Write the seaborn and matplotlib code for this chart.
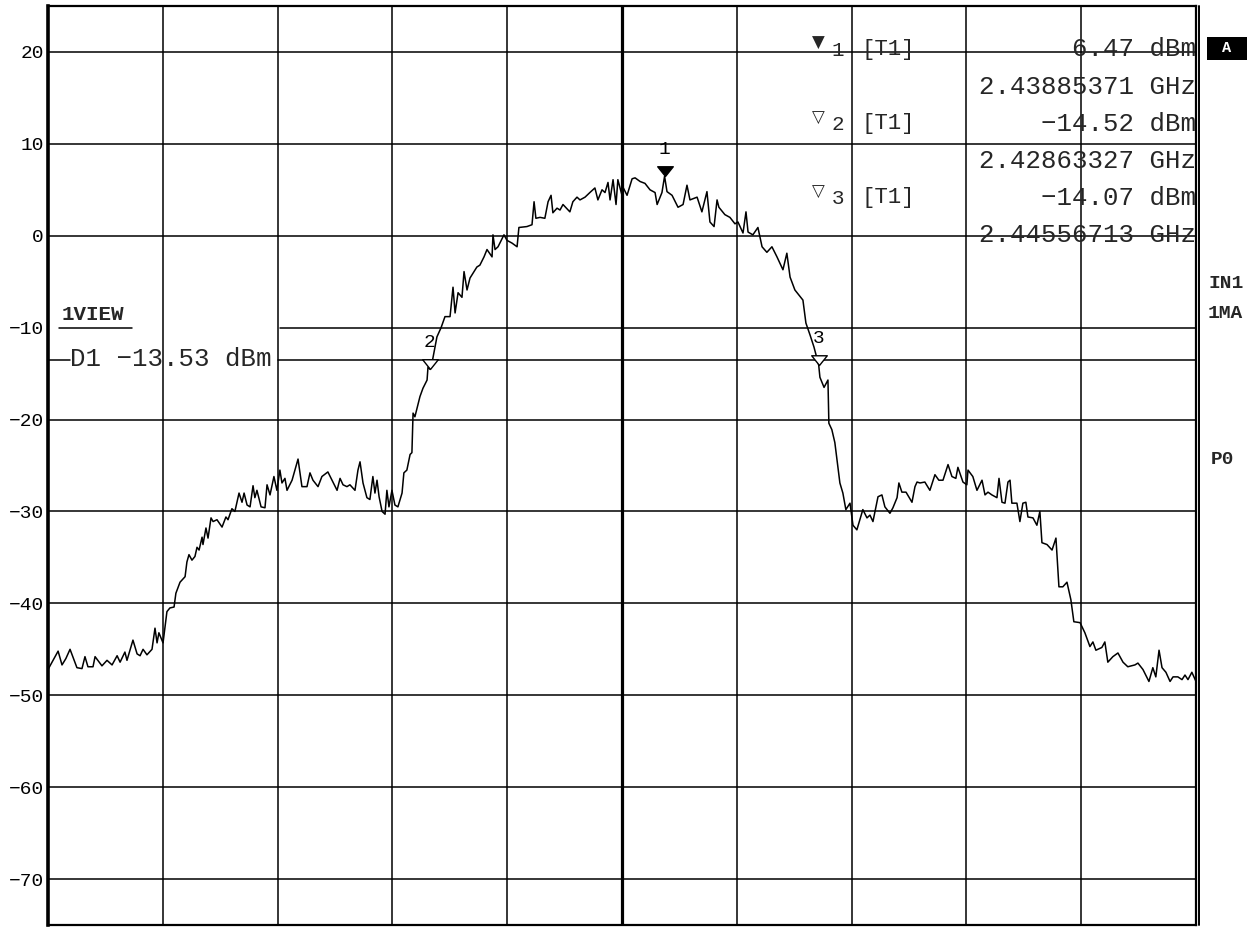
import numpy as np
import pandas as pd
import matplotlib
matplotlib.use("Agg")
import matplotlib.pyplot as plt
import seaborn as sns
from matplotlib.path import Path
from matplotlib.patches import Rectangle

# ---- sweep settings -------------------------------------------------------
f_start_mhz = 2412.0
f_stop_mhz = 2462.0
f_center_mhz = 2437.0
ref_top_db = 25.0
ref_bottom_db = -75.0
display_line_dbm = -13.53

# ---- trace 1 (frequency offset from start in MHz, level in dBm) ----------
trace_offset_mhz = [
    0.00, 0.44, 0.61, 0.78, 0.96, 1.26, 1.48, 1.61, 1.74, 1.96, 2.05, 2.35,
    2.57, 2.79, 3.01, 3.14, 3.35, 3.44, 3.70, 3.88, 4.01, 4.14, 4.31, 4.53,
    4.66, 4.75, 4.83, 5.01, 5.18, 5.31, 5.49, 5.57, 5.75, 5.97, 6.05, 6.14,
    6.27, 6.40, 6.49, 6.58, 6.71, 6.75, 6.88, 6.97, 7.10, 7.19, 7.36, 7.58,
    7.75, 7.84, 8.01, 8.14, 8.32, 8.45, 8.54, 8.67, 8.80, 8.93, 9.01, 9.10,
    9.28, 9.45, 9.54, 9.67, 9.84, 9.97, 10.10, 10.19, 10.32, 10.41, 10.63,
    10.89, 11.06, 11.28, 11.41, 11.54, 11.76, 11.93, 12.19, 12.59, 12.72,
    12.85, 13.02, 13.15, 13.37, 13.50, 13.59, 13.72, 13.89, 14.02, 14.15,
    14.24, 14.33, 14.42, 14.55, 14.68, 14.76, 14.85, 14.98, 15.11, 15.24,
    15.42, 15.50, 15.63, 15.77, 15.85, 15.90, 15.98, 16.20, 16.33, 16.51,
    16.55, 16.633, 16.72, 16.94, 17.12, 17.29, 17.51, 17.64, 17.73, 17.86,
    18.03, 18.12, 18.25, 18.38, 18.68, 18.81, 18.99, 19.12, 19.34, 19.38,
    19.47, 19.60, 19.86, 19.99, 20.21, 20.43, 20.51, 20.86, 21.08, 21.17,
    21.25, 21.43, 21.64, 21.78, 21.91, 21.99, 22.17, 22.30, 22.43, 22.73,
    22.86, 23.04, 23.17, 23.39, 23.60, 23.82, 23.95, 24.13, 24.26, 24.39,
    24.48, 24.61, 24.74, 24.82, 25.00, 25.04, 25.22, 25.44, 25.57, 25.79,
    26.00, 26.22, 26.44, 26.53, 26.74, 26.854, 26.96, 27.18, 27.44, 27.66,
    27.83, 27.96, 28.27, 28.48, 28.70, 28.83, 29.01, 29.14, 29.22, 29.48,
    29.70, 29.92, 30.05, 30.27, 30.40, 30.49, 30.70, 30.92, 31.10, 31.31,
    31.53, 31.75, 32.01, 32.18, 32.32, 32.53, 32.88, 33.01, 33.19, 33.36,
    33.567, 33.62, 33.80, 33.97, 34.01, 34.14, 34.27, 34.49, 34.62, 34.75,
    34.93, 35.06, 35.23, 35.49, 35.67, 35.80, 35.93, 36.15, 36.32, 36.45,
    36.67, 36.80, 36.98, 37.06, 37.19, 37.37, 37.63, 37.76, 37.85, 37.98,
    38.19, 38.41, 38.63, 38.80, 38.98, 39.20, 39.37, 39.54, 39.63, 39.85,
    40.02, 40.07, 40.28, 40.46, 40.68, 40.81, 40.94, 41.11, 41.33, 41.42,
    41.55, 41.68, 41.81, 41.90, 41.98, 42.20, 42.33, 42.46, 42.59, 42.68,
    42.90, 43.07, 43.20, 43.29, 43.51, 43.73, 43.90, 44.03, 44.20, 44.38,
    44.55, 44.68, 44.95, 45.16, 45.38, 45.51, 45.64, 45.90, 46.03, 46.16,
    46.38, 46.60, 46.82, 47.03, 47.34, 47.47, 47.69, 47.95, 48.12, 48.25,
    48.39, 48.52, 48.69, 48.87, 49.00, 49.21, 49.39, 49.52, 49.65, 49.82,
    50.00,
]

trace_dbm = [
    -47.2, -45.2, -46.7, -46.0, -45.0, -47.0, -47.1, -45.8, -46.9, -46.9, -45.8, -46.8,
    -46.2, -46.7, -45.7, -46.4, -45.3, -46.2, -44.0, -45.5, -45.7, -45.0, -45.6, -45.0,
    -42.7, -44.3, -43.2, -44.3, -40.9, -40.5, -40.4, -38.9, -37.7, -37.1, -35.5, -34.7,
    -35.3, -34.9, -33.9, -34.2, -32.8, -33.6, -31.8, -32.9, -30.7, -31.1, -30.9, -31.7,
    -30.6, -30.9, -29.7, -30.0, -28.0, -29.0, -28.0, -29.3, -29.5, -27.2, -28.5, -27.7,
    -29.5, -29.6, -27.1, -28.2, -26.2, -27.7, -25.5, -26.9, -26.4, -27.7, -26.6,
    -24.3, -27.3, -27.3, -25.8, -26.6, -27.3, -26.2, -25.7, -27.7, -26.4,
    -27.1, -27.3, -27.1, -27.7, -25.5, -24.6, -26.9, -28.5, -28.7, -26.2,
    -28.0, -26.6, -28.4, -30.0, -30.3, -27.7, -29.5, -27.7, -29.3, -29.5,
    -28.0, -25.8, -25.5, -23.8, -23.6, -19.3, -19.7, -17.5, -16.6, -15.7,
    -14.3, -14.52, -13.9, -11.0, -10.0, -8.8, -8.8, -5.6, -8.4, -6.2,
    -6.7, -3.9, -5.9, -4.6, -3.4, -3.2, -2.3, -1.5, -2.3, 0.1,
    -1.5, -1.2, 0.1, -0.5, -0.8, -1.2, 0.9, 1.0, 1.2, 3.7,
    1.9, 2.0, 1.9, 3.7, 4.4, 2.5, 3.0, 2.8, 3.4, 2.6,
    3.7, 4.2, 3.9, 4.2, 4.7, 5.2, 3.9, 5.0, 4.7, 5.8,
    3.9, 6.1, 3.4, 6.1, 4.4, 5.3, 4.4, 6.2, 6.3, 5.9,
    5.7, 5.0, 4.7, 3.4, 4.7, 6.47, 4.8, 4.4, 3.1, 3.4,
    5.5, 3.9, 4.2, 2.6, 4.8, 1.5, 1.0, 3.9, 3.1, 2.3,
    2.0, 1.3, 1.5, 0.3, 2.6, 0.4, 0.1, 0.9, -1.2, -1.8,
    -1.2, -2.3, -3.7, -1.9, -4.5, -5.9, -7.0, -9.5, -10.8, -12.1,
    -14.07, -15.4, -16.5, -15.7, -20.4, -21.1, -22.5, -26.9, -28.0, -29.8,
    -29.1, -31.5, -32.0, -29.8, -30.7, -30.4, -31.1, -28.4, -28.2, -29.5,
    -30.2, -29.6, -28.5, -26.9, -27.9, -27.9, -29.0, -27.3, -26.8, -26.9,
    -26.8, -27.7, -26.0, -26.6, -26.6, -24.9, -26.2, -26.4, -25.2, -26.8,
    -27.1, -25.5, -26.2, -27.7, -26.6, -28.2, -27.9, -28.2, -28.5, -26.4,
    -29.0, -29.1, -26.8, -26.6, -29.1, -29.1, -31.1, -29.1, -29.0, -30.6,
    -30.7, -31.5, -30.0, -33.4, -33.6, -34.2, -32.9, -38.2, -38.2, -37.7,
    -39.6, -42.0, -42.1, -43.2, -44.7, -44.2, -45.1, -44.8, -44.2, -46.4,
    -45.8, -45.4, -46.4, -46.9, -46.7, -46.5, -47.2, -48.5, -47.0, -48.0,
    -45.1, -47.0, -47.5, -48.5, -48.0, -48.0, -48.3, -47.8, -48.3, -47.5,
    -48.5,
]

# ---- markers --------------------------------------------------------------
marker_ids = ["1", "2", "3"]
marker_ghz = [2.43885371, 2.42863327, 2.44556713]
marker_dbm = [6.47, -14.52, -14.07]
marker_filled = [True, False, False]

# ---- level axis labels ----------------------------------------------------
ytick_vals = [20, 10, 0, -10, -20, -30, -40, -50, -60, -70]
ytick_labels = ["20", "10", "0", "\u221210", "\u221220", "\u221230",
                "\u221240", "\u221250", "\u221260", "\u221270"]
view_label_level = -10

# ---------------------------------------------------------------------------
sns.set_theme(style="white")
plt.rcParams["font.family"] = ["Liberation Mono", "DejaVu Sans"]

W, H = 1255, 927
fig = plt.figure(figsize=(W / 100, H / 100), dpi=100)
fig.patch.set_facecolor("white")
ax = fig.add_axes([48 / W, 2 / H, 1148 / W, 919 / H])
ax.set_facecolor("white")

df = pd.DataFrame({
    "freq": [f_start_mhz + o for o in trace_offset_mhz],
    "level": trace_dbm,
})

ax.set_xlim(f_start_mhz, f_stop_mhz)
ax.set_ylim(ref_bottom_db, ref_top_db)
ax.set_xticks(np.linspace(f_start_mhz, f_stop_mhz, 11))
ax.set_xticklabels([])
ax.set_yticks(ytick_vals)
ax.set_yticklabels(ytick_labels, fontsize=14, color="black")
ax.tick_params(axis="both", length=0, pad=3)
ax.grid(True, color="black", lw=1.1)
ax.set_axisbelow(True)

# the level line under the view label is broken by the label block
ax.get_ygridlines()[ytick_vals.index(view_label_level)].set_visible(False)
ax.axhline(view_label_level, xmin=11 / 1148, xmax=84 / 1148, color="black", lw=1.1, zorder=0.5)
ax.axhline(view_label_level, xmin=232 / 1148, xmax=1, color="black", lw=1.1, zorder=0.5)

for name, sp in ax.spines.items():
    sp.set_visible(True)
    sp.set_color("black")
    sp.set_linewidth(1.6)
ax.spines["left"].set_linewidth(2.6)

# double line on the right frame edge
ax.plot([1 + 3.5 / 1148] * 2, [0, 1], transform=ax.transAxes, color="black",
        lw=1.4, clip_on=False)

# centre frequency line is heavier
ax.axvline(f_center_mhz, color="black", lw=2.3, zorder=1)

# display line D1, interrupted by its label
ax.axhline(display_line_dbm, xmin=0, xmax=22 / 1148, color="black", lw=1.1)
ax.axhline(display_line_dbm, xmin=230 / 1148, xmax=1, color="black", lw=1.1)

sns.lineplot(data=df, x="freq", y="level", color="black", lw=1.1,
             estimator=None, sort=False, ax=ax, zorder=3)
ax.set_xlabel("")
ax.set_ylabel("")

# marker triangles with their tip on the trace
tri = Path([(-1, 1.25), (1, 1.25), (0, 0), (-1, 1.25)],
           [Path.MOVETO, Path.LINETO, Path.LINETO, Path.CLOSEPOLY])
for mid, fg, lv, filled in zip(marker_ids, marker_ghz, marker_dbm, marker_filled):
    fm = fg * 1000.0
    ax.plot([fm], [lv], ls="none", marker=tri, ms=14,
            mfc="black" if filled else "white", mec="black", mew=1.0, zorder=4)
    ax.annotate(mid, (fm, lv), xytext=(0, 19), textcoords="offset points",
                ha="center", va="center", fontsize=14, color="black", zorder=5)

# marker readout table
row_y = [49, 87, 124, 161, 198, 235]
for i, (mid, fg, lv, filled) in enumerate(zip(marker_ids, marker_ghz, marker_dbm, marker_filled)):
    y_lvl = row_y[2 * i]
    y_frq = row_y[2 * i + 1]
    fig.text(818 / W, 1 - (y_lvl - 6) / H, "\u25bc" if filled else "\u25bd",
             ha="center", va="center", fontsize=12, family="DejaVu Sans")
    fig.text(838 / W, 1 - (y_lvl + 1) / H, mid, ha="center", va="center", fontsize=15)
    fig.text(861 / W, 1 - y_lvl / H, "[T1]", ha="left", va="center", fontsize=16)
    val = f"{lv:.2f} dBm".replace("-", "\u2212")
    fig.text(1196 / W, 1 - y_lvl / H, val, ha="right", va="center", fontsize=18.5)
    fig.text(1196 / W, 1 - y_frq / H, f"{fg:.8f} GHz", ha="right", va="center",
             fontsize=18.5)

# display line label and view label
fig.text(70 / W, 1 - 359 / H, f"D1 {display_line_dbm:.2f} dBm".replace("-", "\u2212"),
         ha="left", va="center", fontsize=18.5)
fig.text(62 / W, 1 - 314 / H, "1VIEW", ha="left", va="center", fontsize=15,
         fontweight="bold")

# side annotations
fig.patches.append(Rectangle((1207 / W, 1 - 60 / H), 40 / W, 23 / H,
                             transform=fig.transFigure, facecolor="black",
                             edgecolor="none"))
fig.text(1227 / W, 1 - 48 / H, "A", ha="center", va="center", fontsize=11,
         fontweight="bold", color="white")
fig.text(1208 / W, 1 - 284 / H, "IN1", ha="left", va="center", fontsize=14,
         fontweight="bold")
fig.text(1208 / W, 1 - 313 / H, "1MA", ha="left", va="center", fontsize=14,
         fontweight="bold")
fig.text(1211 / W, 1 - 460 / H, "P0", ha="left", va="center", fontsize=14,
         fontweight="bold")

fig.savefig("out.png", dpi=100, facecolor="white")
